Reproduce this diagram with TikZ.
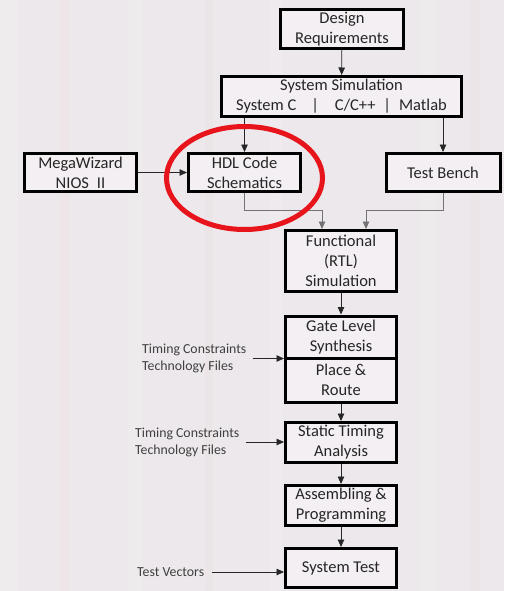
\documentclass[tikz,border=0pt]{standalone}
\usepackage{fontspec}
\setmainfont{Carlito}
\usetikzlibrary{arrows.meta,calc}
\definecolor{bg}{HTML}{ECE8EB}
\definecolor{boxfill}{HTML}{F3EFF2}
\definecolor{ringred}{HTML}{E8141B}
\begin{document}
\begin{tikzpicture}[x=1pt,y=-1pt,
  box/.style={draw=black,line width=3pt,fill=boxfill,align=center,
    font=\fontsize{16.5}{20}\selectfont,text=black!85,inner sep=0pt},
  arr/.style={-{Triangle[length=7.5pt,width=6.5pt]},line width=0.8pt,draw=black!85},
  elbow/.style={arr,draw=black!55},
  lbl/.style={align=left,font=\fontsize{13.8}{17}\selectfont,text=black!75,inner sep=0pt,anchor=west}]
\fill[bg] (0,0) rectangle (504,591);
\useasboundingbox (0,0) rectangle (504,591);
% background texture (faint die image)
\foreach \x/\w/\c/\o in {0/18/white/0.18, 60/10/pink/0.06, 128/14/white/0.15, 205/8/pink/0.05,
  270/12/white/0.12, 420/16/white/0.15, 470/10/pink/0.05}{
  \fill[\c,opacity=\o] (\x,0) rectangle ++(\w,591);
}
% boxes
\node[box,minimum width=123pt,minimum height=39pt] (req) at (342,29) {Design\\Requirements};
\node[box,minimum width=240pt,minimum height=40pt] (sim) at (341.5,96.5)
  {System Simulation\\System C\hspace{15pt}|\hspace{16pt}C/C++\hspace{8pt}|\hspace{8pt}Matlab};
\node[box,minimum width=112pt,minimum height=38pt] (mega) at (80.5,172.5) {MegaWizard\\NIOS\hspace{8pt}II};
\node[box,minimum width=112pt,minimum height=38pt] (hdl) at (244.5,172.5) {HDL Code\\Schematics};
\node[box,minimum width=114pt,minimum height=38pt] (tb) at (443,172.5) {Test Bench};
\node[box,minimum width=111pt,minimum height=61pt] (func) at (341,261) {Functional\\(RTL)\\Simulation};
\node[box,minimum width=111pt,minimum height=42pt] (gate) at (341,337) {Gate Level\\Synthesis};
\node[box,minimum width=111pt,minimum height=44pt] (par) at (341,380) {Place \&\\Route};
\node[box,minimum width=111pt,minimum height=40pt] (sta) at (341,442.5) {Static Timing\\Analysis};
\node[box,minimum width=111pt,minimum height=40pt] (asm) at (341,505.5) {Assembling \&\\Programming};
\node[box,minimum width=111pt,minimum height=39pt] (st) at (341,568) {System Test};
% side labels
\node[lbl] (tc1) at (142,358.5) {Timing Constraints\\Technology Files};
\node[lbl] (tc2) at (135,442) {Timing Constraints\\Technology Files};
\node[lbl] (tv) at (137,572) {Test Vectors};
% connectors
\draw[arr] (req) -- (sim);
\draw[arr] (sim.south -| hdl) -- (hdl.north);
\draw[arr] (sim.south -| tb) -- (tb.north);
\draw[arr] (mega) -- (hdl);
\draw[elbow] (hdl.south) -- ++(0,17) -| ([xshift=-19pt]func.north);
\draw[elbow] (tb.south) -- ++(0,17) -| ([xshift=25pt]func.north);
\draw[arr] (func) -- (gate);
\draw[arr] (par) -- (sta);
\draw[arr] (sta) -- (asm);
\draw[arr] (asm) -- (st);
\draw[arr,shorten <=6pt] (tc1.east) -- (tc1.east -| gate.west);
\draw[arr,shorten <=6pt] (tc2.east) -- (tc2.east -| sta.west);
\draw[arr,shorten <=8pt] (tv.east) -- (tv.east -| st.west);
% red highlight ring
\draw[ringred,line width=5pt] (244.5,178) ellipse [x radius=78, y radius=51.5];
\end{tikzpicture}
\end{document}
